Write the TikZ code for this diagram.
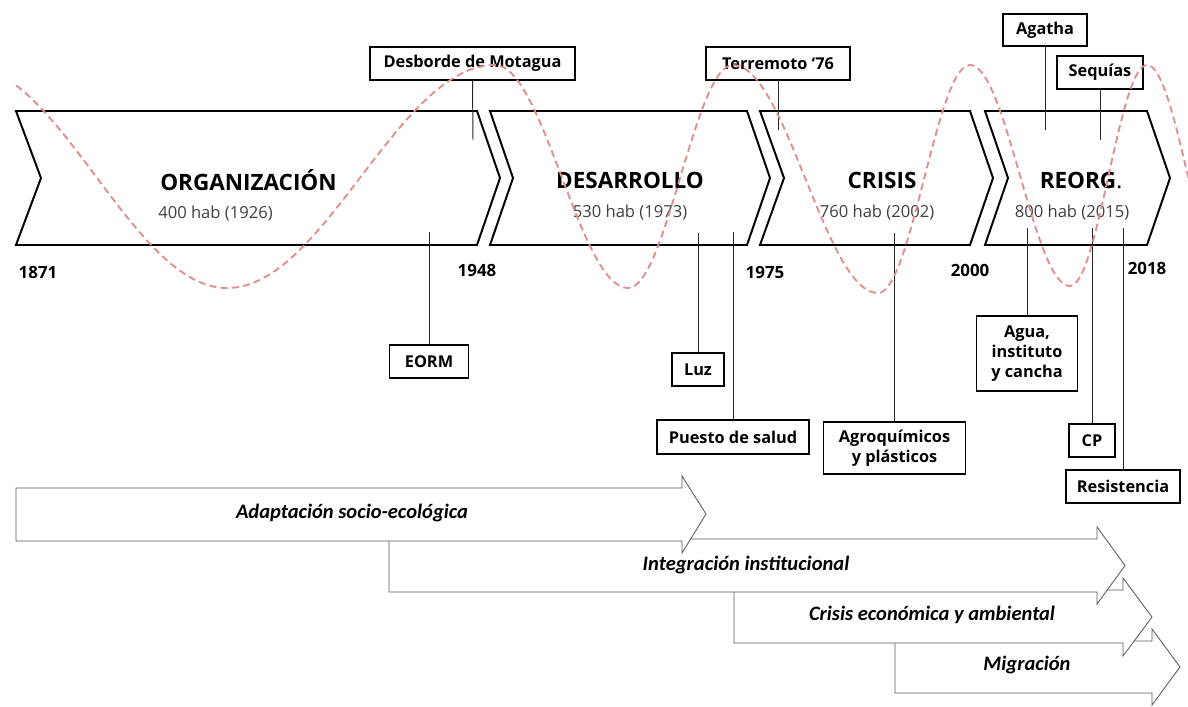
\documentclass[tikz,border=0pt]{standalone}
\usepackage{fontspec}
\setmainfont{Open Sans}
\newfontfamily\calib{Carlito}
\definecolor{wavered}{RGB}{226,140,140}
\definecolor{subgray}{RGB}{64,64,64}
\definecolor{bandgray}{RGB}{90,90,90}

\begin{document}
\begin{tikzpicture}[x=0.025cm,y=-0.025cm,
  phase/.style={draw=black,line width=1.4pt,fill=white,line join=miter},
  phasetitle/.style={inner sep=0pt,font=\fontsize{16}{19}\selectfont\bfseries},
  phasesub/.style={inner sep=0pt,text=subgray,font=\fontsize{11.8}{14}\selectfont},
  yearlbl/.style={inner sep=0pt,font=\fontsize{12}{14}\selectfont\bfseries},
  event/.style={draw=black,line width=0.9pt,fill=white,inner sep=0pt,align=center,
        font=\fontsize{11.6}{14}\selectfont\bfseries},
  link/.style={draw=black!85,line width=0.7pt},
  band/.style={draw=bandgray,line width=0.6pt,fill=white,line join=miter},
  bandlbl/.style={inner sep=0pt,font=\calib\fontsize{14.6}{17}\selectfont\bfseries\itshape},
  wave/.style={draw=wavered,line width=1.3pt,dash pattern=on 5pt off 3pt}]
  \useasboundingbox (0,0) rectangle (1188,706);

  %% Phases along the top
  \draw[phase] (16,111) -- (477,111) -- (500,178) -- (477,245) -- (16,245) -- (41,178) -- cycle;
  \draw[phase] (490,111) -- (747,111) -- (770,178) -- (747,245) -- (490,245) -- (513,178) -- cycle;
  \draw[phase] (760,111) -- (970,111) -- (993,178) -- (970,245) -- (760,245) -- (784,178) -- cycle;
  \draw[phase] (985,111) -- (1147,111) -- (1170,178) -- (1147,245) -- (985,245) -- (1008,178) -- cycle;

  \node[phasetitle,anchor=west] (organiz) at (160,180) {ORGANIZACIÓN};
  \node[phasesub,anchor=west] (organizhab) at (158,213) {400 hab (1926)};
  \node[phasetitle] (desarr) at (630,180) {DESARROLLO};
  \node[phasesub] (desarrhab) at (630,212) {530 hab (1973)};
  \node[phasetitle] (crisis) at (882,180) {CRISIS};
  \node[phasesub] (crisishab) at (877,212) {760 hab (2002)};
  \node[phasetitle] (reorg) at (1081,180) {REORG\textmd{.}};
  \node[phasesub] (reorghab) at (1072,212) {800 hab (2015)};

  %% Years
  \node[yearlbl] (y1871) at (38,272) {1871};
  \node[yearlbl] (y1948) at (477,270) {1948};
  \node[yearlbl] (y1975) at (765,272) {1975};
  \node[yearlbl] (y2000) at (970,270) {2000};
  \node[yearlbl] (y2018) at (1147,268) {2018};

  %% Events above
  \node[event,minimum width=5.125cm,minimum height=0.825cm] (desborde) at (472.5,63.5) {Desborde de Motagua};
  \node[event,minimum width=3.6cm,minimum height=0.825cm] (terremoto) at (778,63.5) {Terremoto ‘76};
  \node[event,minimum width=2.1cm,minimum height=0.8cm] (agatha) at (1045,30) {Agatha};
  \node[event,minimum width=2.15cm,minimum height=0.825cm] (sequias) at (1100,72.5) {Sequías};
  \coordinate (desbordeend) at (473,140);
  \coordinate (terremotoend) at (778,130);
  \coordinate (agathaend) at (1045,130);
  \coordinate (sequiasend) at (1100,140);
  \draw[link] (desborde.south) -- (desbordeend);
  \draw[link] (terremoto.south) -- (terremotoend);
  \draw[link] (agatha.south) -- (agathaend);
  \draw[link] (sequias.south) -- (sequiasend);

  %% Events below
  \node[event,minimum width=1.975cm,minimum height=0.825cm] (eorm) at (429,361.5) {EORM};
  \node[event,minimum width=1.3cm,minimum height=0.825cm] (luz) at (698,369.5) {Luz};
  \node[event,minimum width=3.8cm,minimum height=0.85cm] (puesto) at (733,437) {Puesto de salud};
  \node[event,minimum width=3.55cm,minimum height=1.3cm] (agroq) at (894.5,448) {Agroquímicos\\y plásticos};
  \node[event,minimum width=2.525cm,minimum height=1.875cm] (agua) at (1027,353.5) {Agua,\\instituto\\y cancha};
  \node[event,minimum width=1.15cm,minimum height=0.825cm] (cp) at (1092,440.5) {CP};
  \node[event,minimum width=2.85cm,minimum height=0.825cm] (resist) at (1123,486.5) {Resistencia};
  \coordinate (eormend) at (429,232);
  \coordinate (luzend) at (698,233);
  \coordinate (puestoend) at (733,232);
  \coordinate (agroqend) at (894.5,233);
  \coordinate (aguaend) at (1027,228);
  \coordinate (cpend) at (1092,228);
  \coordinate (resistend) at (1123,228);
  \draw[link] (eorm.north) -- (eormend);
  \draw[link] (luz.north) -- (luzend);
  \draw[link] (puesto.north) -- (puestoend);
  \draw[link] (agroq.north) -- (agroqend);
  \draw[link] (agua.north) -- (aguaend);
  \draw[link] (cp.north) -- (cpend);
  \draw[link] (resist.north) -- (resistend);

  %% Processes (drawn bottom first so the upper ones overlap)
  \draw[band] (895,641) -- (1152,641) -- (1152,629) -- (1180,667) -- (1152,705) -- (1152,693) -- (895,693) -- cycle;
  \draw[band] (734,590) -- (1123,590) -- (1123,578) -- (1152,617) -- (1123,656) -- (1123,643) -- (734,643) -- cycle;
  \draw[band] (389,539) -- (1097,539) -- (1097,527) -- (1125,565.5) -- (1097,604) -- (1097,592) -- (389,592) -- cycle;
  \draw[band] (16,488) -- (682,488) -- (682,476) -- (706,514) -- (682,553) -- (682,541) -- (16,541) -- cycle;
  \node[bandlbl] (adapt) at (352,513) {Adaptación socio-ecológica};
  \node[bandlbl] (integ) at (746,565) {Integración institucional};
  \node[bandlbl] (crisisamb) at (932,615) {Crisis económica y ambiental};
  \node[bandlbl] (migr) at (1027,665) {Migración};

  %% Dashed wave over everything
  \begin{scope}
    \clip (13,0) rectangle (1188,706);
    \draw[wave] (-35,65) cos (96,176.5) sin (227,288) cos (361,176.5) sin (495,65)
      cos (561.5,176.5) sin (628,288) cos (680.5,176.5) sin (733,65)
      cos (805.5,179) sin (878,293) cos (924,179) sin (970,65)
      cos (1020,175.5) sin (1070,286) cos (1108.5,175.5) sin (1147,65)
      cos (1188,176.5) sin (1229,288);
  \end{scope}
\end{tikzpicture}
\end{document}
